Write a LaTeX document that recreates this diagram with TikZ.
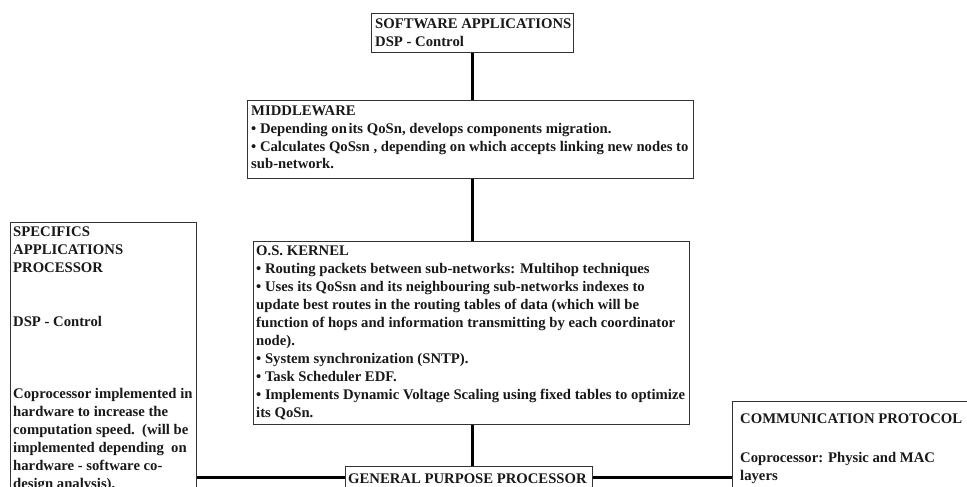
\documentclass[tikz,border=0pt]{standalone}
\usepackage{fontspec}
\setmainfont{Liberation Serif}
\begin{document}
\begin{tikzpicture}[x=1pt,y=1pt,
  box/.style={draw=black!80, line width=0.9pt, rectangle, inner sep=0pt, anchor=north west},
  txt/.style={inner sep=0pt, anchor=base west, font=\bfseries\fontsize{14.7}{18}\selectfont, text=black!90},
  conn/.style={line width=2.6pt, black}]
\useasboundingbox (0,0) rectangle (967,-487);
\clip (0,0) rectangle (967,-487);
\fill[white] (0,0) rectangle (967,-487);
% boxes
\node[box, minimum width=202pt, minimum height=39pt] (sw) at (371,-13) {};
\node[box, minimum width=446pt, minimum height=78pt] (mw) at (247,-100) {};
\node[box, minimum width=436pt, minimum height=183pt] (os) at (253,-241) {};
\node[box, minimum width=247pt, minimum height=22pt] (gpp) at (345,-466) {};
\node[box, minimum width=186pt, minimum height=300pt] (sap) at (10,-222) {};
\node[box, minimum width=300pt, minimum height=120pt] (comm) at (732,-401) {};
% texts
\node[txt, xshift=4pt, yshift=-16pt] (swt) at (sw.north west) {\begin{tabular}[t]{@{}l@{}}SOFTWARE APPLICATIONS\\DSP - Control\end{tabular}};
\node[txt, xshift=4pt, yshift=-15pt] (mwt) at (mw.north west) {\begin{tabular}[t]{@{}l@{}}MIDDLEWARE\\
• Depending on\kern1.5pt its QoSn, develops components migration.\\
• Calculates QoSsn , depending on which accepts linking new nodes to\\
sub-network.\end{tabular}};
\node[txt, xshift=3pt, yshift=-14pt] (ost) at (os.north west) {\begin{tabular}[t]{@{}l@{}}O.S. KERNEL\\
• Routing packets between sub-networks: Multihop techniques\\
• Uses its QoSsn and its neighbouring sub-networks indexes to\\
update best routes in the routing tables of data (which will be\\
function of hops and information transmitting by each coordinator\\
node).\\
• System synchronization (SNTP).\\
• Task Scheduler EDF.\\
• Implements Dynamic Voltage Scaling using fixed tables to optimize\\
its QoSn.\end{tabular}};
\node[txt, xshift=3pt, yshift=-17pt] (gppt) at (gpp.north west) {GENERAL PURPOSE PROCESSOR};
\node[txt, xshift=3pt, yshift=-14pt] (sapt) at (sap.north west) {\begin{tabular}[t]{@{}l@{}}SPECIFICS\\
APPLICATIONS\\
PROCESSOR\\
\\
\\
DSP - Control\\
\\
\\
\\
Coprocessor implemented in\\
hardware to increase the\\
computation speed.\ \ (will be\\
implemented depending\ \ on\\
hardware - software co-\\
design analysis).\end{tabular}};
\node[txt, xshift=8pt, yshift=-22pt] (commt) at (comm.north west) {\begin{tabular}[t]{@{}l@{}}COMMUNICATION PROTOCOL\\[3pt]
\\
Coprocessor: Physic and MAC\\
layers\end{tabular}};
% connectors
\draw[conn] (sw.south) -- (sw.south |- mw.north);
\draw[conn] (sw.south |- mw.south) -- (sw.south |- os.north);
\draw[conn] ([xshift=1pt]os.south) -- ([xshift=1pt]os.south |- gpp.north);
\draw[conn] (gpp.west) -- (gpp.west -| sap.east);
\draw[conn] (gpp.east) -- (gpp.east -| comm.west);
\end{tikzpicture}
\end{document}
